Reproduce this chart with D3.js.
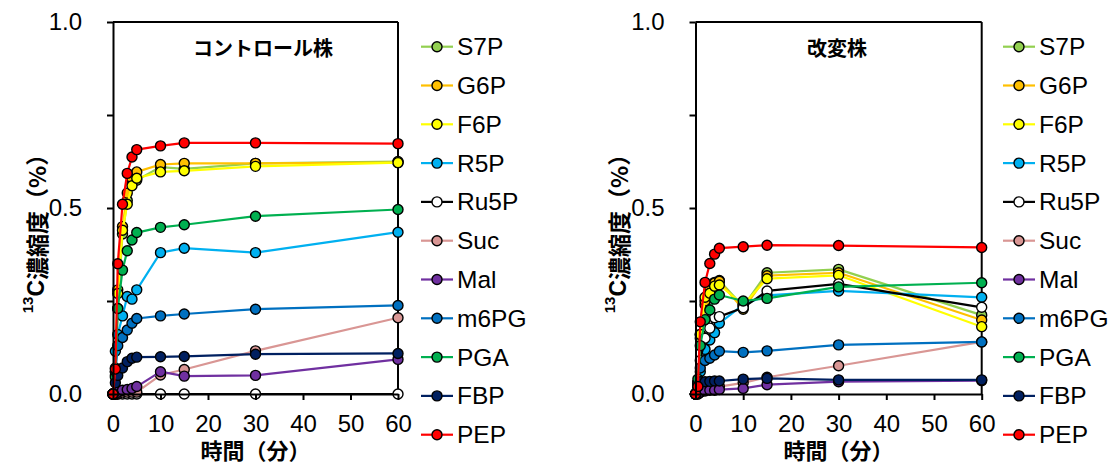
<!DOCTYPE html>
<html><head><meta charset="utf-8">
<script src="https://cdn.jsdelivr.net/npm/d3@7/dist/d3.min.js"></script>
<style>
body{margin:0;background:#fff;}
text{font-family:"Liberation Sans",Arial,"Noto Sans CJK JP",sans-serif;}
.cjk{font-family:"Noto Sans CJK JP","Liberation Sans",sans-serif;font-weight:bold;}
</style></head>
<body><svg id="c" width="1115" height="465"></svg>
<script>
// ---- data ----
const timesMin = [0, 0.5, 1, 2, 3, 4, 5, 10, 15, 30, 60];
const metabolites = ["S7P","G6P","F6P","R5P","Ru5P","Suc","Mal","m6PG","PGA","FBP","PEP"];
const xTicks = [0,10,20,30,40,50,60];
const yTicks = [0,0.25,0.5,0.75,1.0];
const panelTitles = ["コントロール株","改変株"];

// control strain
const ctrlS7P  = [0, 0.05, 0.23, 0.43, 0.52, 0.565, 0.575, 0.61, 0.605, 0.62, 0.625];
const ctrlG6P  = [0, 0.06, 0.28, 0.45, 0.54, 0.58, 0.597, 0.617, 0.62, 0.62, 0.622];
const ctrlF6P  = [0, 0.07, 0.27, 0.44, 0.51, 0.56, 0.58, 0.597, 0.60, 0.612, 0.622];
const ctrlR5P  = [0, 0.115, 0.16, 0.21, 0.262, 0.255, 0.28, 0.38, 0.392, 0.38, 0.435];
const ctrlRu5P = [0, 0, 0, 0, 0, 0, 0, 0, 0, 0, 0];
const ctrlSuc  = [0, 0, 0, 0.005, 0.005, 0.005, 0.005, 0.051, 0.066, 0.116, 0.205];
const ctrlMal  = [0, 0, 0.005, 0.01, 0.012, 0.015, 0.02, 0.06, 0.048, 0.05, 0.093];
const ctrlm6PG = [0, 0.06, 0.13, 0.152, 0.172, 0.19, 0.203, 0.21, 0.215, 0.228, 0.238];
const ctrlPGA  = [0, 0.045, 0.23, 0.333, 0.385, 0.414, 0.434, 0.448, 0.455, 0.478, 0.496];
const ctrlFBP  = [0, 0.03, 0.05, 0.07, 0.087, 0.096, 0.099, 0.10, 0.101, 0.107, 0.109];
const ctrlPEP  = [0, 0.067, 0.35, 0.51, 0.593, 0.637, 0.657, 0.667, 0.675, 0.675, 0.673];

// modified strain
const modS7P  = [0, 0.03, 0.15, 0.24, 0.28, 0.30, 0.305, 0.235, 0.326, 0.335, 0.212];
const modG6P  = [0, 0.03, 0.16, 0.25, 0.285, 0.298, 0.303, 0.228, 0.318, 0.326, 0.199];
const modF6P  = [0, 0.03, 0.16, 0.26, 0.271, 0.29, 0.293, 0.24, 0.31, 0.319, 0.181];
const modR5P  = [0, 0.02, 0.06, 0.12, 0.145, 0.165, 0.19, 0.24, 0.265, 0.277, 0.26];
const modRu5P = [0, 0.02, 0.09, 0.15, 0.177, 0.205, 0.208, 0.232, 0.277, 0.296, 0.233];
const modSuc  = [0, 0, 0.005, 0.01, 0.012, 0.015, 0.02, 0.03, 0.045, 0.076, 0.14];
const modMal  = [0, 0, 0.005, 0.008, 0.01, 0.01, 0.012, 0.015, 0.025, 0.033, 0.036];
const modm6PG = [0, 0.03, 0.07, 0.09, 0.096, 0.105, 0.115, 0.112, 0.116, 0.132, 0.14];
const modPGA  = [0, 0.04, 0.13, 0.20, 0.226, 0.255, 0.266, 0.25, 0.257, 0.288, 0.299];
const modFBP  = [0, 0.02, 0.033, 0.033, 0.034, 0.035, 0.035, 0.04, 0.042, 0.038, 0.038];
const modPEP  = [0, 0.02, 0.194, 0.30, 0.351, 0.376, 0.392, 0.396, 0.40, 0.399, 0.394];

// ---- styles ----
const lineColors   = ["#92D050","#FFC000","#FFFF00","#00B0F0","#000000","#D99694","#7030A0","#0070C0","#00B050","#002060","#FF0000"];
const markerColors = ["#92D050","#FFC000","#FFFF00","#00B0F0","#FFFFFF","#D99694","#7030A0","#0070C0","#00B050","#002060","#FF0000"];

const ctrlSeries = [ctrlS7P,ctrlG6P,ctrlF6P,ctrlR5P,ctrlRu5P,ctrlSuc,ctrlMal,ctrlm6PG,ctrlPGA,ctrlFBP,ctrlPEP];
const modSeries  = [modS7P,modG6P,modF6P,modR5P,modRu5P,modSuc,modMal,modm6PG,modPGA,modFBP,modPEP];

const svg = d3.select("#c");

function panel(x0, x1, series, title, titleX, legendX, yTitleX){
  const x = d3.scaleLinear().domain([0,60]).range([x0,x1]);
  const y = d3.scaleLinear().domain([0,1]).range([394,22]);
  const g = svg.append("g");

  // frame top/right
  g.append("line").attr("x1",x0).attr("x2",x1).attr("y1",y(1)).attr("y2",y(1)).attr("stroke","#000").attr("stroke-width",2);
  g.append("line").attr("x1",x1).attr("x2",x1).attr("y1",y(1)).attr("y2",y(0)).attr("stroke","#000").attr("stroke-width",2);

  // series
  const line = d3.line().x((d,i)=>x(timesMin[i])).y(d=>y(d));
  series.forEach((vals,k)=>{
    const sg = g.append("g");
    sg.append("path").attr("d",line(vals)).attr("fill","none")
      .attr("stroke",lineColors[k]).attr("stroke-width",2.2).attr("stroke-linejoin","round");
    sg.selectAll("circle").data(vals).join("circle")
      .attr("cx",(d,i)=>x(timesMin[i])).attr("cy",d=>y(d)).attr("r",5)
      .attr("fill",markerColors[k]).attr("stroke","#000").attr("stroke-width",1.4);
  });

  // axes
  const ya = g.append("g").attr("transform",`translate(${x0},0)`)
    .call(d3.axisLeft(y).tickValues(yTicks).tickSize(6).tickSizeOuter(0).tickPadding(25)
      .tickFormat(d => (Math.abs(d*2-Math.round(d*2))<1e-9) ? d3.format(".1f")(d) : ""));
  const xa = g.append("g").attr("transform",`translate(0,${y(0)})`)
    .call(d3.axisBottom(x).tickValues(xTicks).tickSize(6).tickSizeOuter(0).tickPadding(15));
  [ya,xa].forEach(a=>{
    a.selectAll("path,line").attr("stroke","#000").attr("stroke-width",2);
    a.selectAll("text").attr("font-size",24).attr("fill","#000")
      .style("font-family",'"Liberation Sans",Arial,sans-serif');
  });

  // title in plot
  g.append("text").attr("class","cjk").attr("x",titleX).attr("y",47).attr("text-anchor","middle")
    .attr("dominant-baseline","central").attr("font-size",20).text(title);

  // x title
  g.append("text").attr("class","cjk").attr("x",(x0+x1)/2).attr("y",449).attr("text-anchor","middle")
    .attr("dominant-baseline","central").attr("font-size",22).text("時間（分）");

  // y title
  const yt = g.append("text").attr("transform",`translate(${yTitleX},228) rotate(-90)`)
    .attr("text-anchor","middle").attr("dominant-baseline","central").attr("font-size",23).attr("font-weight","bold")
    .style("font-family",'"Liberation Sans","Noto Sans CJK JP",sans-serif');
  yt.append("tspan").attr("font-size",15).attr("baseline-shift","super").text("13");
  yt.append("tspan").text("C");
  yt.append("tspan").style("font-family",'"Noto Sans CJK JP",sans-serif').text("濃縮度（%）");

  // legend
  metabolites.forEach((name,k)=>{
    const ly = 46.7 + k*38.8;
    const lg = g.append("g");
    lg.append("line").attr("x1",legendX).attr("x2",legendX+32).attr("y1",ly).attr("y2",ly)
      .attr("stroke",lineColors[k]).attr("stroke-width",2.2);
    lg.append("circle").attr("cx",legendX+16).attr("cy",ly).attr("r",5)
      .attr("fill",markerColors[k]).attr("stroke","#000").attr("stroke-width",1.4);
    lg.append("text").attr("x",legendX+36).attr("y",ly).attr("dominant-baseline","central")
      .attr("font-size",24.5).attr("fill","#000").text(name);
  });
}

panel(113, 398, ctrlSeries, panelTitles[0], 263, 421, 36);
panel(695.5, 981.7, modSeries, panelTitles[1], 837, 1003, 618);
</script></body></html>
